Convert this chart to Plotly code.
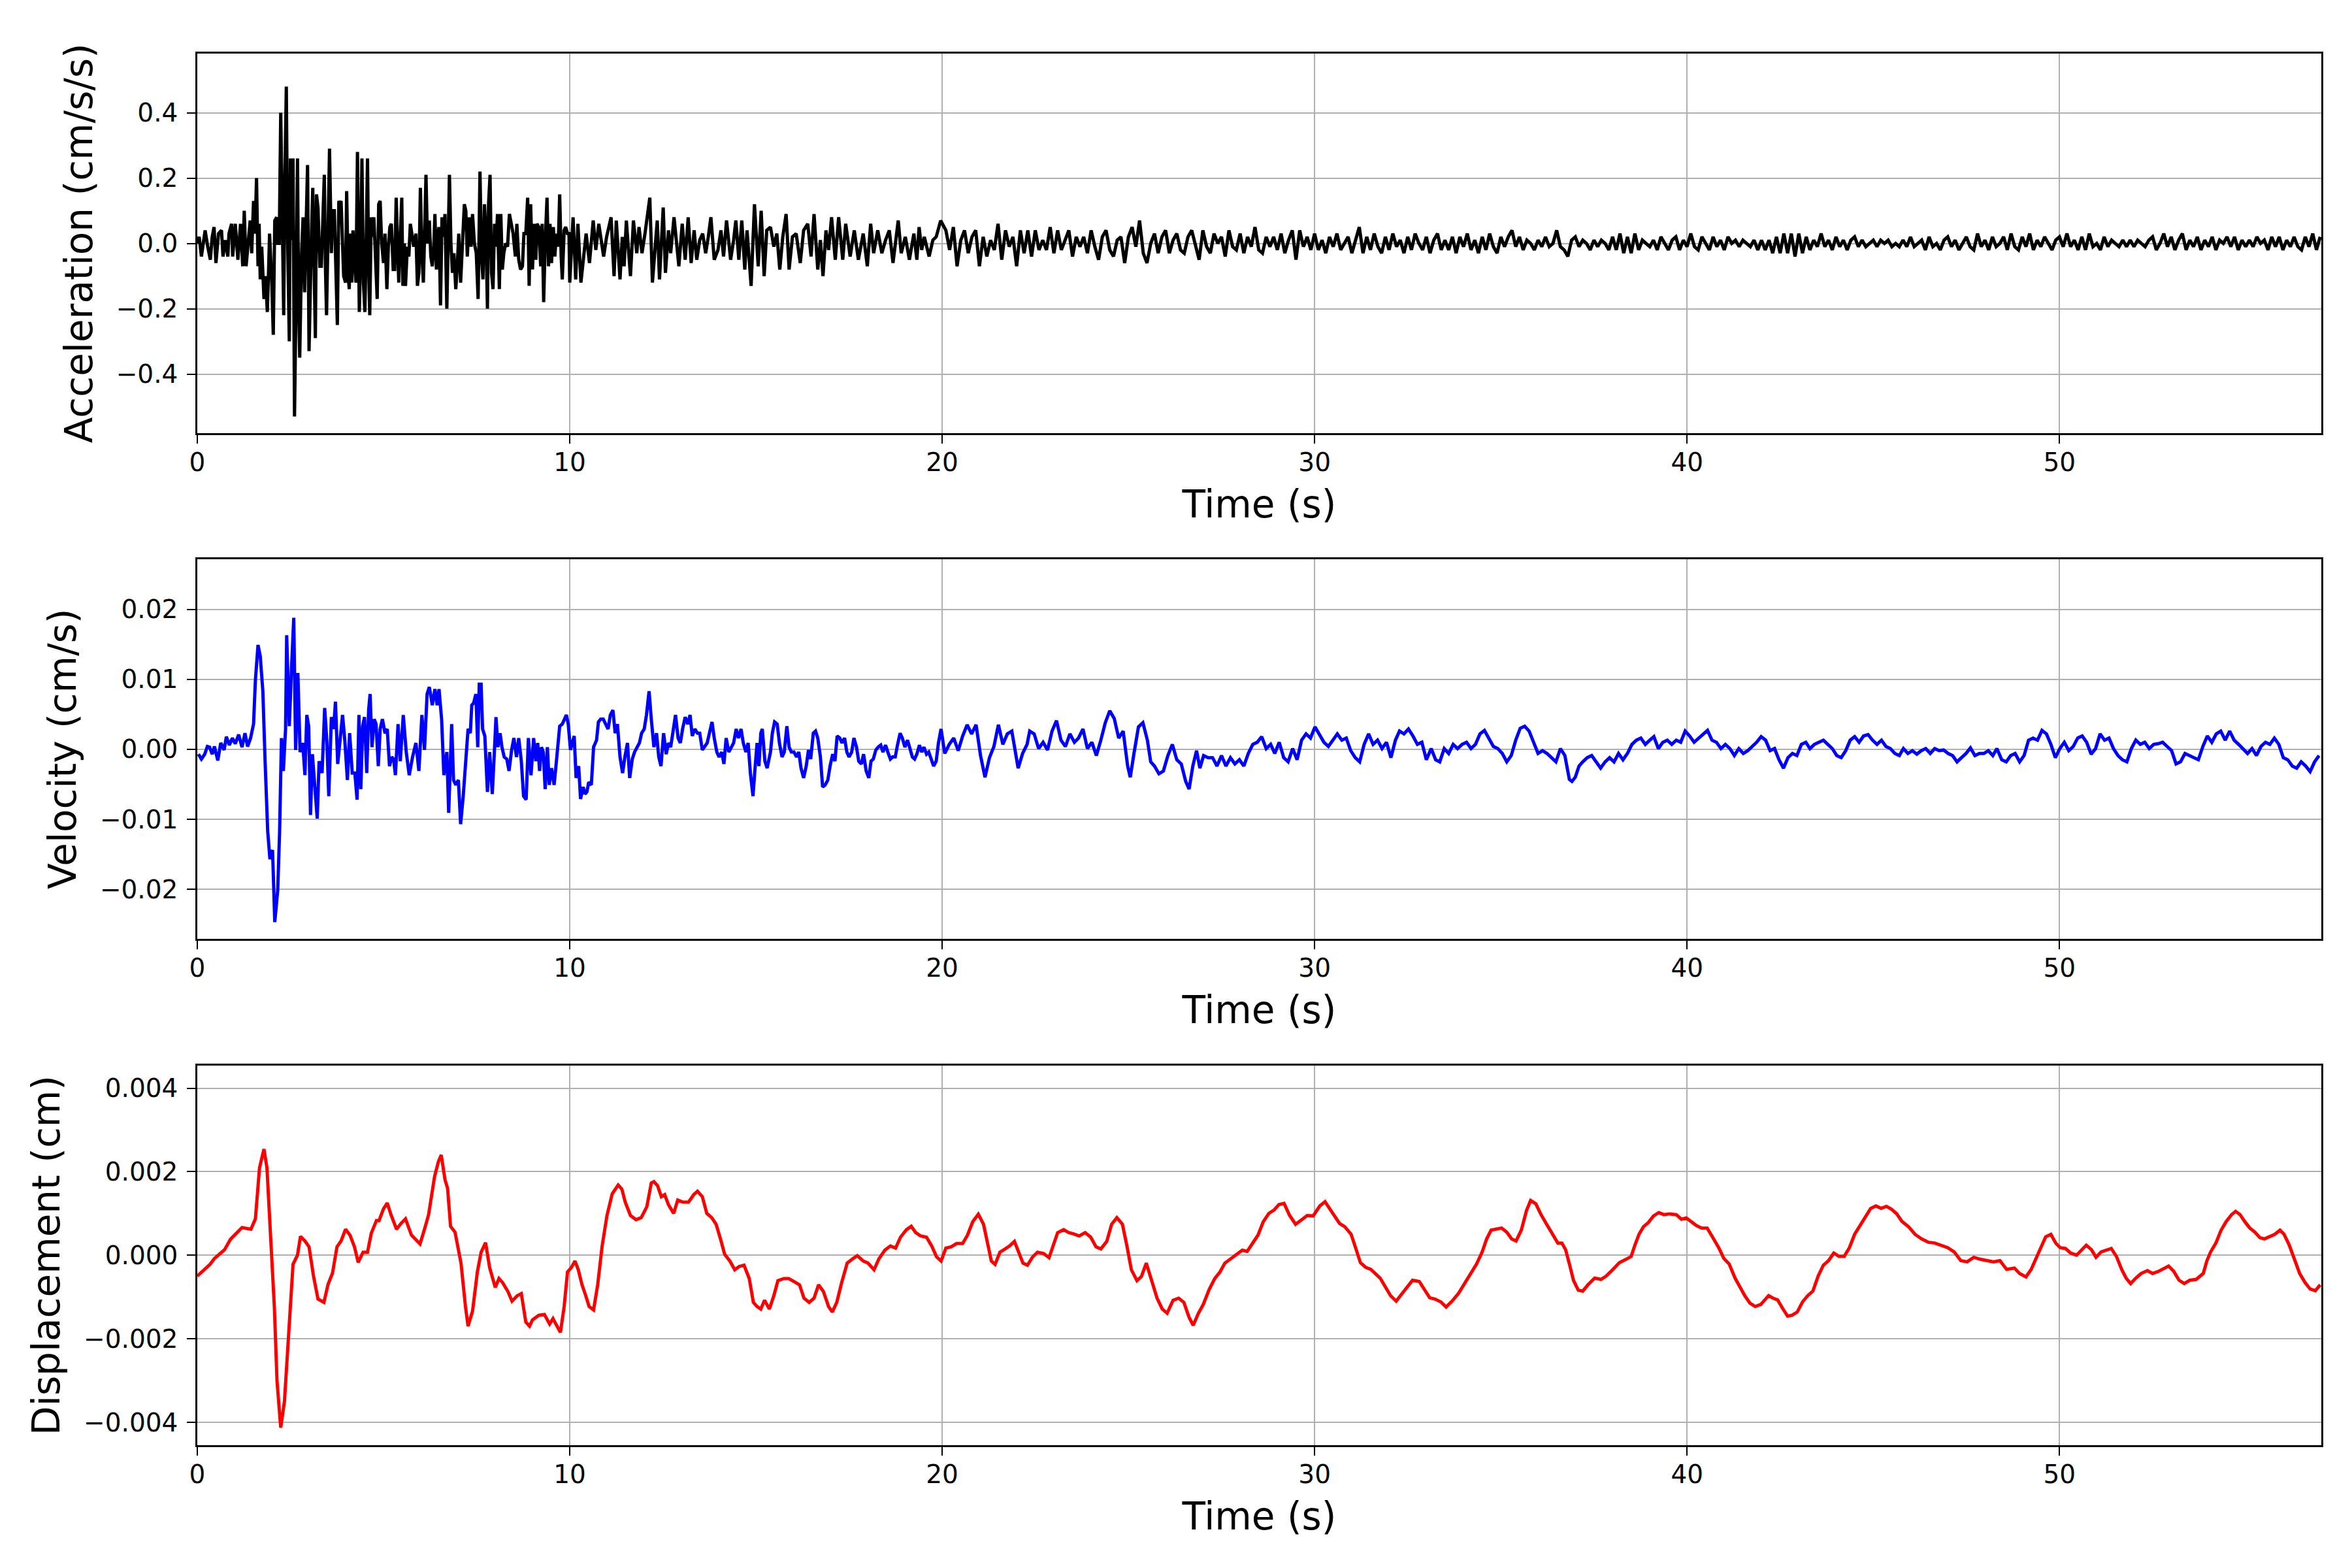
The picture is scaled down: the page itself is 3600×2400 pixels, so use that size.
import numpy as np
import plotly.graph_objects as go

# ---------------- data ----------------
# Acceleration, 0-20 s, values in 0.01 cm/s/s
acc_time_early = [0.0,0.05,0.11,0.16,0.21,0.28,0.35,0.40,0.45,0.50,0.57,0.65,0.69,0.75,0.82,0.85,0.92,0.95,1.02,1.09,
 1.16,1.22,1.26,1.31,1.38,1.42,1.46,1.51,1.55,1.59,1.63,1.66,1.69,1.73,1.76,1.79,1.83,1.88,1.91,1.94,
 2.0,2.04,2.08,2.13,2.16,2.2,2.24,2.28,2.32,2.35,2.39,2.42,2.47,2.5,2.53,2.57,2.61,2.65,2.69,2.72,
 2.75,2.8,2.84,2.88,2.92,2.96,3.0,3.04,3.07,3.1,3.14,3.17,3.2,3.24,3.29,3.33,3.37,3.41,3.44,3.47,
 3.51,3.55,3.6,3.63,3.68,3.72,3.76,3.8,3.83,3.86,3.9,3.93,3.98,4.01,4.05,4.08,4.11,4.15,4.18,4.23,
 4.26,4.3,4.35,4.39,4.42,4.46,4.5,4.54,4.57,4.6,4.63,4.67,4.7,4.74,4.78,4.83,4.87,4.91,4.95,5.0,
 5.04,5.09,5.13,5.17,5.21,5.26,5.3,5.34,5.38,5.41,5.46,5.49,5.52,5.56,5.59,5.64,5.68,5.72,5.76,5.81,
 5.87,5.91,5.95,5.99,6.03,6.07,6.11,6.14,6.18,6.23,6.27,6.31,6.35,6.38,6.42,6.45,6.49,6.53,6.57,6.61,
 6.65,6.7,6.74,6.77,6.81,6.85,6.89,6.94,6.98,7.02,7.07,7.12,7.17,7.21,7.25,7.3,7.35,7.39,7.44,7.49,
 7.54,7.59,7.63,7.67,7.71,7.75,7.79,7.82,7.86,7.9,7.94,7.98,8.02,8.06,8.11,8.15,8.19,8.23,8.28,8.33,
 8.38,8.43,8.48,8.54,8.58,8.63,8.68,8.73,8.77,8.82,8.87,8.91,8.95,9.0,9.04,9.09,9.12,9.17,9.22,9.26,
 9.3,9.34,9.39,9.43,9.47,9.51,9.56,9.6,9.64,9.69,9.73,9.77,9.8,9.85,9.89,9.94,9.98,
 10.0,10.09,10.16,10.22,10.30,10.44,10.53,10.63,10.70,10.78,10.91,10.99,
 11.11,11.19,11.25,11.35,11.41,11.46,11.52,11.63,11.71,11.80,11.86,11.94,12.02,
 12.15,12.22,12.35,12.41,12.51,12.57,12.65,12.71,12.80,12.93,13.02,
 13.10,13.18,13.26,13.34,13.41,13.49,13.57,13.65,13.72,13.79,13.88,13.98,
 14.06,14.13,14.21,14.32,14.40,14.46,14.54,14.62,14.70,14.76,14.87,14.96,
 15.06,15.14,15.22,15.29,15.39,15.48,15.56,15.64,15.72,15.81,15.89,15.98,
 16.08,16.19,16.28,16.39,16.48,16.56,16.66,16.73,16.80,16.88,16.95,17.03,
 17.13,17.22,17.33,17.41,17.53,17.64,17.75,17.88,17.99,
 18.08,18.16,18.27,18.38,18.48,18.58,18.68,18.82,18.90,19.01,
 19.12,19.24,19.32,19.38,19.45,19.52,19.65,19.75,19.84,19.96]
acc_early = [0,2,-4,1,4,-1,-5,2,5,-6,3,4,-4,1,-4,3,6,-4,6,-5,
 6,-7,10,-7,3,7,-3,13,3,20,-7,6,-11,-1,-9,-17,-10,-21,-10,3,
 -12,-28,7,8,0,0,40,5,-22,19,48,5,-30,26,1,26,-53,-18,26,-18,
 -35,-3,8,-15,9,24,-33,-7,5,17,-18,-29,15,11,-7,-7,7,21,-7,-22,
 3,29,-3,10,10,-4,-25,13,12,13,-4,-10,-12,16,-10,-14,3,-12,4,-4,
 -12,28,-21,0,26,-12,-21,4,26,-7,-22,8,2,8,-6,-17,12,13,0,-6,
 3,-14,-1,5,6,-8,-8,14,-2,-12,5,14,-13,0,-13,-1,-4,6,3,-1,
 3,-13,-9,17,-3,-12,6,21,0,7,-4,-7,-1,9,-8,2,5,-19,8,2,
 9,-20,3,21,0,-9,-3,-14,-7,3,-12,-1,12,10,-4,8,-1,9,0,-3,
 -17,22,-4,-11,12,3,-20,12,21,-9,-14,6,-1,9,-14,9,-8,-3,0,-1,
 9,6,3,-4,6,-5,-8,-7,3,3,14,-13,12,-8,6,-5,6,5,-7,6,
 -18,0,14,-7,6,-6,5,-4,3,-1,15,-4,-11,4,5,3,3,
 -12,8,-11,6,-12,3,-6,7,-2,6,-4,2,
 8,-10,7,-11,2,-7,7,-10,7,-3,5,-3,3,
 14,-12,7,-11,11,-9,4,-3,8,-7,6,
 -5,8,-6,4,-5,1,3,-3,2,8,-5,-2,
 4,-4,7,-5,1,7,-5,7,-8,4,-13,12,
 -7,10,-10,4,5,-1,3,-8,2,9,-8,2,
 3,-6,4,6,-4,9,-8,1,-10,4,-2,8,
 -5,8,-5,6,-4,4,-5,3,-7,
 6,-3,4,-3,1,4,-6,7,-3,2,
 -5,3,-5,5,-2,2,-4,1,2,7]
# Acceleration, 20.1-57.0 s sampled every 0.1 s, values in 0.01 cm/s/s
acc_late_start = 20.1
acc_late_step = 0.1
acc_late = [4,-2,5,-7,1,4,-3,2,4,-7,
 2,-4,1,-2,6,-5,4,-1,2,-7,
 4,-3,4,-4,4,-2,1,-2,5,-3,
 4,-2,1,4,-4,2,-1,2,-3,4,
 -1,-5,2,4,-2,-4,1,2,-6,2,
 5,-1,7,-3,-6,0,3,-3,2,4,
 -3,1,3,-2,-3,2,4,-1,-5,4,
 -1,-3,3,0,2,-4,4,-1,-2,3,
 -3,2,-1,5,-2,-3,2,-1,2,-2,
 3,-3,1,4,-5,4,-1,2,-2,3,
 -2,1,-3,2,-1,3,-2,0,2,-3,
 1,5,-3,2,-2,3,-1,-3,2,-2,
 3,-1,1,-3,2,-2,3,0,-2,2,
 -3,1,3,-2,1,-2,2,-3,2,-1,
 3,-2,1,-3,2,-2,3,-1,-3,2,
 -1,2,4,-1,2,-2,1,0,-2,1,
 -1,2,-1,0,4,-1,-2,-4,1,2,
 -1,1,0,-2,1,-1,1,0,-2,2,
 -2,3,-3,2,-3,3,-2,1,0,-1,
 1,-2,2,0,-2,1,2,-2,1,-1,
 3,-1,-2,2,0,-2,2,-1,1,-2,
 2,0,1,-1,1,0,-1,1,-2,1,
 -2,1,-3,2,-3,3,-3,3,-4,3,
 -3,2,-2,1,-1,3,-1,1,-2,2,
 -1,1,-2,1,2,-1,1,-1,0,1,
 -1,1,0,1,-1,0,-1,1,-1,2,
 -1,0,1,-2,2,-1,0,-2,1,2,
 -1,1,-2,0,2,-1,-2,3,-1,1,
 -2,2,-1,0,2,-2,3,-1,-2,2,
 -1,3,-2,1,-1,2,0,-2,1,2,
 -1,3,-1,1,-2,2,-2,3,-1,0,
 -2,2,-1,1,0,-1,1,-1,1,-1,
 1,0,-1,1,2,-2,0,3,-1,2,
 -2,1,3,-2,1,-1,2,-2,1,-1,
 2,-2,1,0,2,-1,2,-2,1,-1,
 1,-1,2,0,1,-2,2,-1,2,-2,
 1,-1,2,-1,-2,2,-1,3,-2,2]
ACC_UNIT = 0.01

# Velocity, values in 1e-4 cm/s
vel_time = [0.03,0.11,0.2,0.27,0.33,0.4,0.46,0.55,0.63,0.72,0.78,0.86,0.94,1.02,1.11,1.2,1.28,1.35,1.43,1.51,
 1.56,1.63,1.69,1.76,1.82,1.89,1.95,2.02,2.08,2.16,2.21,2.26,2.31,2.37,2.4,2.47,2.53,2.59,2.64,2.7,
 2.76,2.83,2.89,2.94,2.99,3.04,3.09,3.16,3.22,3.27,3.35,3.42,3.48,3.53,3.6,3.66,3.71,3.77,3.83,3.9,
 3.96,4.03,4.09,4.16,4.23,4.29,4.34,4.39,4.44,4.49,4.55,4.6,4.64,4.69,4.75,4.8,4.86,4.91,4.97,5.04,
 5.1,5.16,5.22,5.27,5.32,5.39,5.45,5.53,5.61,5.69,5.78,5.87,5.95,6.03,6.1,6.17,6.23,6.31,6.38,6.44,
 6.49,6.56,6.62,6.7,6.75,6.83,6.88,6.94,7.01,7.07,7.14,7.2,7.27,7.33,7.37,7.42,7.48,7.53,7.57,7.62,
 7.66,7.72,7.79,7.85,7.92,7.97,8.02,8.07,8.13,8.18,8.24,8.31,8.37,8.44,8.5,8.57,8.63,8.7,8.76,8.83,
 8.89,8.96,9.03,9.09,9.14,9.19,9.24,9.29,9.34,9.4,9.45,9.51,9.58,9.63,9.68,9.73,9.8,9.86,9.91,9.96,
 10.02,10.07,10.12,10.17,10.24,10.29,10.36,10.41,10.46,10.51,10.58,10.64,10.72,10.77,10.83,10.9,10.96,11.03,11.09,11.16,
 11.22,11.28,11.35,11.42,11.48,11.55,11.61,11.68,11.74,11.8,11.87,11.93,12.0,12.06,12.13,12.19,12.26,12.33,12.39,12.45,
 12.52,12.59,12.65,12.71,12.78,12.84,12.91,12.97,13.03,13.1,13.17,13.23,13.29,13.36,13.43,13.49,13.56,13.62,13.69,13.75,
 13.82,13.88,13.95,14.01,14.08,14.14,14.2,14.27,14.34,14.4,14.47,14.53,14.6,14.66,14.73,14.79,14.85,14.92,14.97,15.03,
 15.08,15.13,15.17,15.24,15.3,15.39,15.44,15.5,15.57,15.63,15.7,15.76,15.83,15.89,15.95,16.02,16.09,16.15,16.21,16.28,
 16.35,16.41,16.47,16.54,16.6,16.66,16.73,16.79,16.86,16.93,16.99,17.06,17.12,17.18,17.25,17.31,17.38,17.44,17.5,17.57,
 17.63,17.7,17.76,17.83,17.89,17.96,18.03,18.09,18.15,18.22,18.28,18.35,18.41,18.48,18.54,18.61,18.67,18.74,18.8,18.87,
 18.93,19.0,19.07,19.13,19.2,19.26,19.32,19.39,19.45,19.51,19.58,19.64,19.71,19.77,19.84,19.9,19.97,
 20.07,20.19,20.31,20.43,20.55,20.67,20.79,20.91,21.03,21.15,21.27,21.39,21.51,21.63,21.75,21.87,22.04,22.16,22.28,22.35,
 22.47,22.59,22.71,22.83,22.95,23.07,23.19,23.31,23.43,23.55,23.66,23.78,23.9,24.02,24.14,24.26,24.38,24.5,24.62,24.74,
 24.86,24.98,25.05,25.15,25.27,25.39,25.51,25.6,25.7,25.82,25.94,26.06,26.18,26.3,26.42,26.54,26.63,26.73,26.83,26.92,
 27.02,27.14,27.26,27.38,27.5,27.62,27.74,27.86,27.98,28.1,28.22,28.34,28.46,28.58,28.7,28.82,28.93,29.05,29.17,29.29,
 29.41,29.53,29.65,29.77,29.89,30.01,30.13,30.25,30.37,30.49,30.61,30.73,30.85,30.97,31.09,31.21,31.33,31.45,31.57,31.69,
 31.81,31.93,32.05,32.17,32.28,32.4,32.52,32.64,32.76,32.88,33.0,33.13,33.25,33.36,33.48,33.6,33.72,33.84,33.96,34.08,
 34.2,34.32,34.44,34.56,34.68,34.8,34.92,35.04,35.16,35.28,35.4,35.52,35.64,35.76,35.88,36.0,36.12,36.24,36.36,36.48,
 36.6,36.72,36.84,36.91,37.0,37.1,37.2,37.32,37.44,37.56,37.68,37.8,37.92,38.04,38.16,38.28,38.4,38.52,38.64,38.76,
 38.88,39.0,39.11,39.23,39.35,39.47,39.59,39.71,39.83,39.95,40.07,40.19,40.31,40.43,40.55,40.67,40.79,40.91,41.03,41.15,
 41.27,41.39,41.51,41.63,41.75,41.87,41.99,42.11,42.23,42.35,42.47,42.59,42.71,42.83,42.95,43.07,43.19,43.3,43.42,43.54,
 43.66,43.78,43.9,44.02,44.14,44.26,44.38,44.5,44.62,44.74,44.86,44.98,45.1,45.22,45.34,45.46,45.58,45.7,45.81,45.93,
 46.05,46.17,46.29,46.41,46.53,46.65,46.77,46.89,47.01,47.13,47.25,47.37,47.49,47.61,47.73,47.85,47.97,48.09,48.21,48.32,
 48.45,48.57,48.69,48.81,48.93,49.05,49.17,49.29,49.41,49.53,49.65,49.77,49.89,50.01,50.13,50.25,50.37,50.49,50.61,50.73,
 50.85,50.97,51.09,51.21,51.33,51.45,51.57,51.69,51.81,51.93,52.05,52.17,52.29,52.41,52.53,52.65,52.77,52.89,53.01,53.13,
 53.25,53.37,53.49,53.61,53.73,53.85,53.97,54.09,54.21,54.33,54.45,54.57,54.69,54.81,54.93,55.05,55.17,55.29,55.41,55.53,
 55.65,55.77,55.89,56.01,56.13,56.25,56.37,56.49,56.61,56.73,56.85,56.97]
vel_val = [-7,-14,-7,4,3,-7,4,-16,9,-1,18,6,16,8,21,3,23,4,16,36,
 99,149,133,83,-17,-117,-157,-144,-247,-201,-117,16,-31,29,163,33,116,188,-1,109,
 -4,9,-37,49,33,-94,-7,-51,-99,-17,-34,59,9,-67,46,29,68,-21,16,49,
 13,-44,23,-34,-34,-72,49,-57,33,46,-34,56,79,3,43,36,-24,29,43,23,
 29,-24,-11,-14,-37,36,-17,49,-4,-37,-11,9,-31,49,-1,79,89,63,86,63,
 86,43,-37,-4,-91,36,-44,-51,-44,-107,-67,-17,29,23,63,66,79,3,93,93,
 29,19,-61,-4,-64,-11,46,3,23,3,-11,-14,-31,-1,16,-11,16,-17,-67,-72,
 16,-37,16,-17,9,-31,3,-4,-57,3,-51,-27,-51,-24,9,33,36,43,49,36,
 -1,9,19,-41,-24,-71,-54,-64,-61,-47,-51,3,13,39,43,43,36,29,49,56,
 23,36,-11,-34,-11,9,-41,-14,-4,3,9,23,29,49,83,43,3,23,-11,-24,
 23,-7,9,3,29,49,16,9,29,46,36,49,19,29,23,23,-1,3,9,23,
 39,16,-4,-11,-4,-21,16,-4,3,9,29,16,29,9,-4,9,-34,-67,-31,9,
 -24,23,29,-17,-27,-4,23,39,36,9,-11,-4,33,3,-4,-4,-11,-4,-27,-41,
 -24,-1,-14,23,26,16,-11,-54,-51,-44,-24,-7,-17,19,16,9,16,-4,-11,-4,
 16,3,-17,-21,-7,-31,-41,-17,-14,-1,3,6,-4,6,-4,-14,-11,-11,6,23,
 16,3,13,3,-11,-14,-7,6,-4,3,-7,-4,-14,-24,-17,9,29,
 -6,7,16,-2,19,35,22,35,-9,-40,-12,4,35,7,22,26,-27,-6,7,26,
 22,1,10,-1,26,41,13,4,22,10,16,29,1,10,-9,13,38,55,44,16,
 26,-24,-40,-6,32,38,13,-18,-24,-35,-31,-9,7,-15,-21,-46,-57,-24,-2,-27,
 -9,-12,-12,-24,-9,-24,-12,-21,-15,-24,-6,7,10,18,1,7,-6,10,-12,-18,
 1,-15,13,22,16,32,22,10,4,13,22,13,16,-2,-12,-18,7,22,7,13,
 1,10,-12,13,26,22,29,19,7,10,-15,1,-15,-18,1,-6,7,1,7,10,
 1,7,22,27,16,4,1,-6,-18,-9,13,30,33,26,10,-6,-2,-6,-12,-18,
 1,-9,-43,-46,-40,-24,-18,-12,-9,-18,-27,-18,-12,-18,-6,-15,-6,7,13,16,
 7,13,18,1,10,13,7,13,10,26,19,10,16,22,27,13,10,1,7,1,
 -9,1,-6,-2,4,10,18,13,-2,1,-15,-27,-12,-6,-9,7,10,1,7,10,
 13,7,1,-9,-12,-2,13,18,10,19,21,13,7,13,4,1,-6,-9,1,-6,
 -2,-7,-2,1,-6,1,-2,-1,-6,-9,-18,-12,-6,2,-9,-6,-6,-2,-9,1,
 -15,-18,-9,-6,-18,-9,13,16,13,27,22,7,-12,1,10,-2,4,16,19,10,
 -7,1,22,13,16,1,-9,-15,-18,1,13,7,10,1,7,8,10,4,-2,-21,
 -18,-6,-9,-12,-15,4,19,10,22,26,13,26,13,7,1,-6,1,-9,4,10,
 7,16,7,-12,-15,-24,-27,-18,-24,-32,-18,-9]
VEL_UNIT = 1e-4

# Displacement, values in 1e-5 cm
disp_time = [0.0,0.18,0.34,0.46,0.57,0.73,0.89,1.04,1.2,1.44,1.56,1.67,1.79,1.87,1.99,2.07,2.14,2.24,2.34,2.45,
 2.57,2.69,2.77,2.89,3.0,3.12,3.24,3.4,3.51,3.63,3.75,3.86,3.98,4.1,4.22,4.32,4.45,4.57,4.67,4.81,
 4.88,5.0,5.1,5.2,5.35,5.47,5.59,5.75,5.86,5.98,6.1,6.21,6.37,6.47,6.55,6.65,6.72,6.8,6.92,7.0,
 7.08,7.2,7.27,7.39,7.52,7.62,7.74,7.85,8.0,8.1,8.2,8.34,8.45,8.59,8.7,8.82,8.92,9.0,9.17,9.32,
 9.46,9.55,9.66,9.75,9.85,9.94,10.04,10.14,10.23,10.33,10.43,10.52,10.64,10.75,10.87,11.0,11.14,11.3,11.4,11.49,
 11.63,11.78,11.92,12.07,12.19,12.26,12.36,12.46,12.55,12.65,12.79,12.9,13.04,13.19,13.33,13.43,13.56,13.68,13.81,13.93,
 14.05,14.16,14.3,14.43,14.55,14.68,14.82,14.93,15.03,15.13,15.23,15.36,15.48,15.59,15.75,15.88,16.04,16.17,16.29,16.43,
 16.56,16.68,16.81,16.95,17.05,17.17,17.3,17.45,17.59,17.72,17.88,18.01,18.17,18.3,18.46,18.61,18.75,18.88,19.04,19.17,
 19.29,19.42,19.58,19.72,19.85,19.97,20.1,20.24,20.39,20.55,20.68,20.82,20.97,21.11,21.22,21.32,21.42,21.55,21.69,21.81,
 21.94,22.06,22.17,22.29,22.43,22.56,22.72,22.87,23.01,23.1,23.26,23.4,23.53,23.68,23.84,23.99,24.13,24.26,24.42,24.55,
 24.69,24.84,24.96,25.08,25.23,25.35,25.48,25.62,25.77,25.91,26.04,26.2,26.35,26.49,26.63,26.74,26.88,27.01,27.17,27.32,
 27.46,27.59,27.75,27.9,28.06,28.19,28.33,28.48,28.62,28.77,28.91,29.04,29.18,29.33,29.49,29.64,29.8,29.96,30.14,30.28,
 30.4,30.53,30.67,30.81,30.98,31.1,31.23,31.37,31.51,31.63,31.76,31.9,32.04,32.19,32.34,32.48,32.63,32.81,32.95,33.09,
 33.23,33.39,33.53,33.69,33.86,34.04,34.21,34.35,34.5,34.62,34.74,34.88,35.02,35.16,35.29,35.41,35.55,35.69,35.8,35.94,
 36.08,36.25,36.39,36.53,36.64,36.74,36.85,36.95,37.08,37.2,37.34,37.52,37.69,37.83,38.01,38.18,38.36,38.5,38.6,38.71,
 38.83,38.96,39.1,39.24,39.38,39.53,39.71,39.85,39.98,40.11,40.25,40.39,40.54,40.68,40.85,40.99,41.13,41.29,41.41,41.55,
 41.69,41.83,41.98,42.08,42.19,42.31,42.43,42.57,42.7,42.82,42.96,43.1,43.24,43.38,43.52,43.66,43.8,43.94,44.08,44.22,
 44.36,44.5,44.65,44.79,44.93,45.07,45.21,45.35,45.49,45.63,45.77,45.95,46.12,46.3,46.48,46.65,46.83,47.0,47.17,47.35,
 47.52,47.7,47.88,48.05,48.23,48.4,48.58,48.79,48.93,49.1,49.24,49.37,49.49,49.63,49.77,49.9,50.02,50.16,50.3,50.46,
 50.6,50.72,50.86,50.98,51.12,51.26,51.39,51.53,51.67,51.79,51.91,52.05,52.19,52.36,52.5,52.65,52.79,52.93,53.07,53.21,
 53.35,53.5,53.67,53.86,53.96,54.06,54.2,54.34,54.48,54.62,54.73,54.85,54.97,55.11,55.25,55.38,55.5,55.64,55.78,55.92,
 56.03,56.17,56.31,56.45,56.59,56.73,56.87,57.0]
disp_val = [-50,-36,-22,-8,0,13,38,52,66,62,87,209,254,209,13,-126,-301,-413,-350,-182,
 -22,0,45,34,20,-50,-105,-113,-70,-43,20,34,62,48,20,-17,7,7,52,83,
 83,111,125,97,62,76,87,48,38,27,62,97,188,223,240,181,160,69,55,20,
 -19,-123,-170,-134,-40,7,30,-30,-77,-56,-66,-87,-110,-97,-92,-160,-170,-155,-144,-142,
 -165,-152,-170,-185,-123,-40,-30,-14,-35,-71,-97,-123,-131,-71,22,95,147,168,158,127,
 95,85,90,116,173,176,166,140,145,121,100,132,127,127,145,153,140,100,90,74,
 38,2,-14,-35,-27,-24,-56,-113,-123,-129,-108,-129,-97,-61,-56,-56,-64,-71,-103,-113,
 -103,-71,-87,-123,-136,-113,-66,-19,-9,-1,-14,-19,-35,-9,12,22,17,43,61,69,
 54,46,43,22,-4,-14,17,20,28,28,48,80,98,74,28,-14,-22,7,15,22,
 33,7,-19,-24,-4,7,4,-6,33,54,61,54,51,46,54,43,20,15,33,74,
 90,74,22,-35,-61,-51,-19,-61,-103,-129,-139,-108,-103,-113,-149,-168,-139,-118,-82,-56,
 -40,-19,-9,2,12,9,28,48,80,100,108,121,124,95,74,85,95,94,118,128,
 112,92,76,68,50,18,-18,-29,-34,-44,-55,-76,-97,-110,-92,-76,-60,-63,-81,-102,
 -105,-112,-124,-110,-92,-65,-39,-21,8,39,60,63,65,55,39,34,60,107,131,123,
 97,71,50,29,29,13,-24,-60,-84,-86,-71,-55,-58,-50,-34,-18,-10,-3,24,50,
 68,78,94,102,97,99,97,86,89,81,71,65,65,44,18,-8,-21,-55,-76,-97,
 -115,-123,-118,-107,-97,-103,-107,-128,-146,-144,-136,-112,-97,-86,-50,-24,-13,5,-3,-3,
 18,50,71,92,112,118,112,117,110,99,81,68,50,39,31,29,24,18,8,-13,
 -16,-5,-10,-13,-16,-13,-34,-31,-44,-52,-34,-8,18,44,50,29,18,16,5,0,
 13,24,13,-5,8,13,16,-3,-34,-55,-68,-55,-44,-37,-44,-39,-33,-26,-39,-60,
 -68,-60,-58,-44,-13,8,29,60,81,97,105,97,81,65,55,42,39,44,50,60,
 50,24,-13,-44,-65,-81,-85,-71]
DISP_UNIT = 1e-5

# ---------------- figure ----------------
acc_t = list(acc_time_early) + [round(acc_late_start + acc_late_step * i, 2) for i in range(len(acc_late))]
acc_y = [v * ACC_UNIT for v in list(acc_early) + list(acc_late)]
vel_y = [v * VEL_UNIT for v in vel_val]
disp_y = [v * DISP_UNIT for v in disp_val]

FONT = "DejaVu Sans"
W, H = 3600, 2400
XDOM = [302 / W, 3553 / W]
YDOMS = [[1 - 663 / H, 1 - 81.6 / H], [1 - 1437 / H, 1 - 855.6 / H], [1 - 2212 / H, 1 - 1631 / H]]
XMAX = 57.03

fig = go.Figure()
fig.add_trace(go.Scatter(x=acc_t, y=acc_y, mode="lines", line=dict(color="black", width=5),
                         xaxis="x", yaxis="y", showlegend=False))
fig.add_trace(go.Scatter(x=vel_time, y=vel_y, mode="lines", line=dict(color="blue", width=5),
                         xaxis="x2", yaxis="y2", showlegend=False))
fig.add_trace(go.Scatter(x=disp_time, y=disp_y, mode="lines", line=dict(color="red", width=5),
                         xaxis="x3", yaxis="y3", showlegend=False))

common_axis = dict(showline=True, linecolor="black", linewidth=2.6, mirror=True, automargin=False,
                   showgrid=True, gridcolor="#b0b0b0", gridwidth=2.3, zeroline=False,
                   ticks="outside", ticklen=13, tickwidth=2.3, tickcolor="black",
                   tickfont=dict(family=FONT, size=39, color="black"))

y_specs = [
    dict(title="Acceleration (cm/s/s)", range=[-0.581, 0.582], tickvals=[-0.4, -0.2, 0.0, 0.2, 0.4], fmt=".1f"),
    dict(title="Velocity (cm/s)", range=[-0.0271, 0.0272], tickvals=[-0.02, -0.01, 0.0, 0.01, 0.02], fmt=".2f"),
    dict(title="Displacement (cm)", range=[-0.00455, 0.00454], tickvals=[-0.004, -0.002, 0.0, 0.002, 0.004], fmt=".3f"),
]

layout = dict(width=W, height=H, margin=dict(l=0, r=0, t=0, b=0, autoexpand=False),
              paper_bgcolor="white", plot_bgcolor="white",
              font=dict(family=FONT, color="black"))
for i, spec in enumerate(y_specs):
    sfx = "" if i == 0 else str(i + 1)
    layout["xaxis" + sfx] = dict(common_axis, domain=XDOM, anchor="y" + sfx, range=[0, XMAX],
                                 tickvals=[0, 10, 20, 30, 40, 50], ticklabelstandoff=-5,
                                 title=dict(text="Time (s)", font=dict(family=FONT, size=58), standoff=23))
    layout["yaxis" + sfx] = dict(common_axis, domain=YDOMS[i], anchor="x" + sfx, range=spec["range"],
                                 tickvals=spec["tickvals"], tickformat=spec["fmt"], ticklabelstandoff=6,
                                 title=dict(text=spec["title"], font=dict(family=FONT, size=58), standoff=18))

fig.update_layout(**layout)
fig.write_html("out.html", config={"displayModeBar": False},
               post_script="document.body.style.margin='0';")
